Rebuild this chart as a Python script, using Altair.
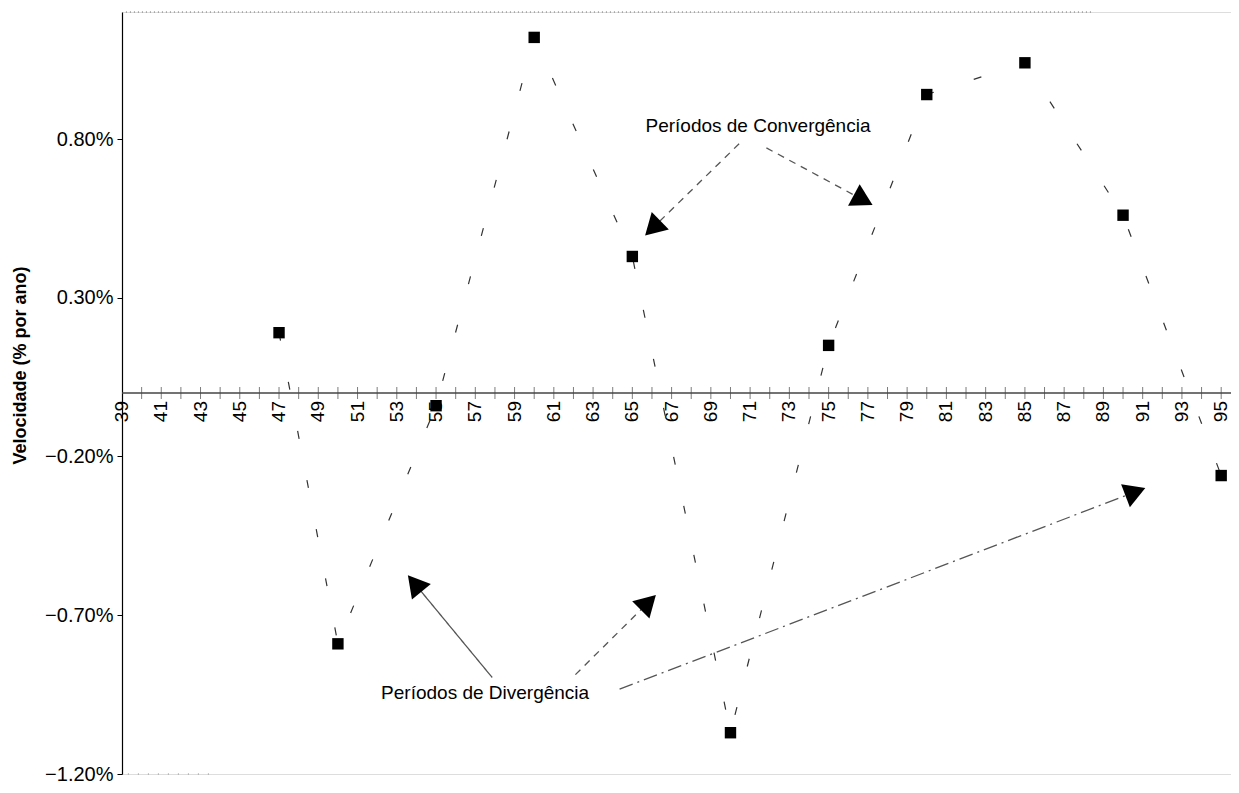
import math
import pandas as pd
import altair as alt

# ---- data ----
years = [47, 50, 55, 60, 65, 70, 75, 80, 85, 90, 95]
velocidade = [0.19, -0.79, -0.04, 1.12, 0.43, -1.07, 0.15, 0.94, 1.04, 0.56, -0.26]

tick_years = list(range(40, 96))
label_years = list(range(39, 96, 2))
y_tick_values = [0.8, 0.3, -0.2, -0.7, -1.2]

# annotation texts (x = year, y = % per year)
ann_text = ["Períodos de Convergência", "Períodos de Divergência"]
ann_x = [71.4, 57.5]
ann_y = [0.84, -0.945]

# arrows: start -> tip, in data units
arrow_start_x = [70.44, 71.83, 57.86, 62.10, 64.35]
arrow_start_y = [0.785, 0.772, -0.896, -0.887, -0.933]
arrow_tip_x = [65.60, 77.30, 53.52, 66.25, 91.20]
arrow_tip_y = [0.493, 0.590, -0.571, -0.633, -0.298]
arrow_style = ["dash", "dash", "solid", "dash", "dashdot"]

X_DOMAIN = [39, 95.5]
Y_DOMAIN = [-1.2, 1.2]
W, H = 1109, 762
kx = W / (X_DOMAIN[1] - X_DOMAIN[0])
ky = H / (Y_DOMAIN[1] - Y_DOMAIN[0])
HEAD = 24.0

FONT = "Liberation Sans"

xs = alt.Scale(domain=X_DOMAIN, nice=False, zero=False)
ys = alt.Scale(domain=Y_DOMAIN, nice=False, zero=False)

yaxis = alt.Axis(
    values=y_tick_values,
    labelExpr="format(datum.value, '.2f') + '%'",
    title="Velocidade (% por ano)",
    titleFont=FONT, titleFontSize=18, titleFontWeight="bold", titleColor="black",
    titleAngle=270, titleAlign="center", titleBaseline="middle",
    titleX=-102, titleY=353,
    labelFont=FONT, labelFontSize=20, labelColor="black", labelPadding=4,
    tickColor="black", tickSize=5, domainColor="black", domainWidth=1.2,
    grid=False,
)


def X(f="x"):
    return alt.X(f + ":Q", scale=xs, axis=None)


def Y(f="y"):
    return alt.Y(f + ":Q", scale=ys, axis=yaxis)


# ---- series ----
series = pd.DataFrame({"x": years, "y": velocidade})
line = alt.Chart(series).mark_line(
    color="#333", strokeWidth=1.2, strokeDash=[8, 42]
).encode(x=X(), y=Y(), order="x:Q")
pts = alt.Chart(series).mark_point(
    shape="square", filled=True, size=130, color="black", opacity=1
).encode(x=X(), y=Y())

# ---- x axis drawn at zero ----
axis_line = alt.Chart(pd.DataFrame({"x": [X_DOMAIN[0]], "x2": [X_DOMAIN[1]], "y": [0.0]})).mark_rule(
    color="#444", strokeWidth=1.3
).encode(x=X(), x2="x2:Q", y=Y())
ticks = alt.Chart(pd.DataFrame({"x": tick_years, "y": [0.0] * len(tick_years)})).mark_tick(
    orient="vertical", size=12, thickness=1, color="#444"
).encode(x=X(), y=Y())
xlabels = alt.Chart(pd.DataFrame({"x": label_years, "y": [0.0] * len(label_years),
                                  "t": [str(v) for v in label_years]})).mark_text(
    angle=270, align="right", baseline="middle", dx=-8, font=FONT, fontSize=19, color="black"
).encode(x=X(), y=Y(), text="t:N")

# ---- frame remnants ----
top_dots = alt.Chart(pd.DataFrame({"x": [39.2], "x2": [88.5], "y": [1.2]})).mark_rule(
    color="#666", strokeWidth=1.2, strokeDash=[1, 3]
).encode(x=X(), x2="x2:Q", y=Y())
bottom_dots = alt.Chart(pd.DataFrame({"x": [39.3], "x2": [43.6], "y": [-1.2]})).mark_rule(
    color="#888", strokeWidth=1.2, strokeDash=[1, 9]
).encode(x=X(), x2="x2:Q", y=Y())

# ---- annotations ----
texts = alt.Chart(pd.DataFrame({"x": ann_x, "y": ann_y, "t": ann_text})).mark_text(
    font=FONT, fontSize=19, color="black", align="center", baseline="middle"
).encode(x=X(), y=Y(), text="t:N")

rows = []
for sx, sy, tx, ty, st in zip(arrow_start_x, arrow_start_y, arrow_tip_x, arrow_tip_y, arrow_style):
    dxp = (tx - sx) * kx
    dyp = -(ty - sy) * ky
    L = math.hypot(dxp, dyp)
    ux, uy = dxp / L, dyp / L
    cx = tx - ux * HEAD * 0.5 / kx
    cy = ty + uy * HEAD * 0.5 / ky
    ang = math.degrees(math.atan2(ux, -uy)) % 360
    rows.append({"x": sx, "y": sy, "x2": cx, "y2": cy, "hx": cx, "hy": cy,
                 "angle": ang, "style": st})
arrows = pd.DataFrame(rows)

arrow_layers = []
dash_map = {"solid": [1, 0], "dash": [7, 6], "dashdot": [14, 5, 2, 5]}
for st, dash in dash_map.items():
    sub = arrows[arrows["style"] == st]
    arrow_layers.append(
        alt.Chart(sub).mark_rule(color="#555", strokeWidth=1.3, strokeDash=dash)
        .encode(x=X(), y=Y(), x2="x2:Q", y2="y2:Q")
    )
heads = alt.Chart(arrows).mark_point(
    shape="triangle-up", filled=True, size=600, color="black", opacity=1
).encode(x=X("hx"), y=Y("hy"), angle=alt.Angle("angle:Q", scale=None))

chart = alt.layer(
    top_dots, bottom_dots, axis_line, ticks, xlabels, line, *arrow_layers, heads, pts, texts
).properties(
    width=W, height=H,
    autosize=alt.AutoSizeParams(type="none"),
    padding={"left": 114, "top": 4, "right": 0, "bottom": 10},
).configure_view(stroke=None).configure(background="white")

chart.save("out.html", embed_options={"renderer": "svg", "actions": False})
